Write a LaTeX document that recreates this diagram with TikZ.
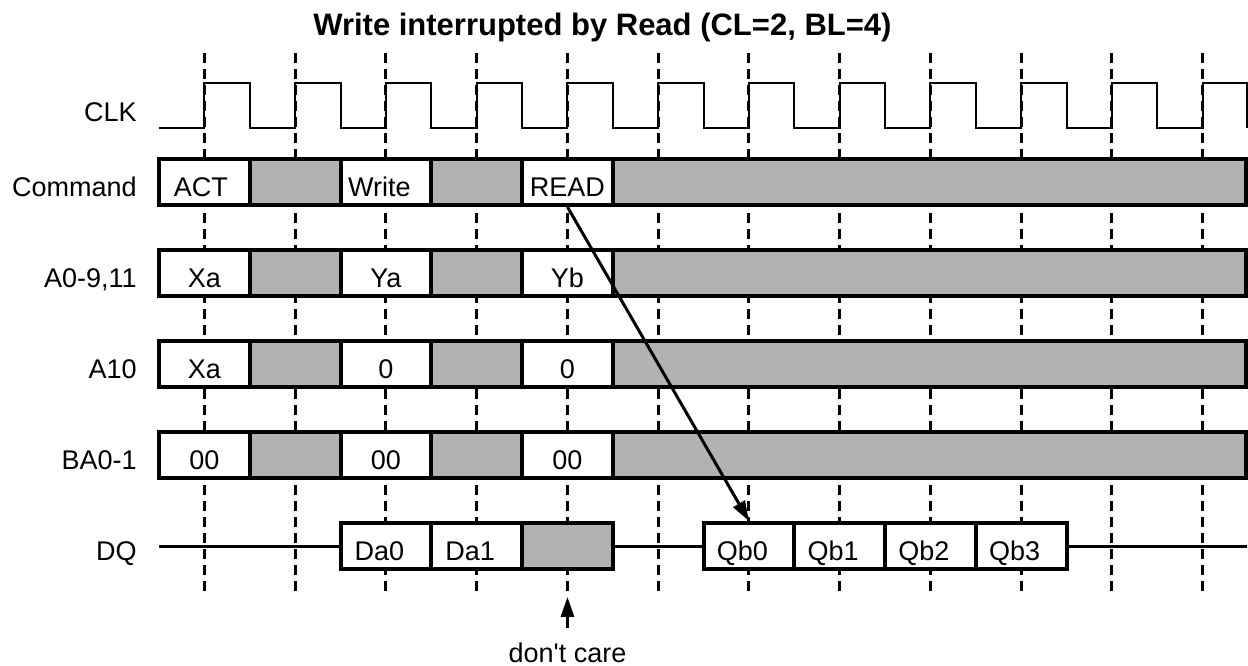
\documentclass[tikz,border=0pt]{standalone}
\usepackage{fontspec}
\setmainfont{Liberation Sans}
\usetikzlibrary{arrows.meta}
\definecolor{dcgray}{RGB}{178,178,178}
\newcommand{\sigfont}{\fontsize{27}{31}\selectfont}
\tikzset{
  cell/.style={draw, line width=4pt, fill=white, minimum width=90.75pt,
    minimum height=46pt, inner sep=0pt, text height=28pt, text depth=0pt, font=\sigfont},
  lcell/.style={cell, execute at end node=\hspace*{13pt}},
  dcell/.style={cell, fill=dcgray},
  sig/.style={anchor=east, inner sep=0pt, text height=28pt, text depth=0pt, font=\sigfont},
  tick/.style={line width=3pt, dash pattern=on 10pt off 6pt},
  tip/.style={line width=3pt, -{Triangle[length=20pt,width=13pt]}}
}
\begin{document}
\begin{tikzpicture}[x=45.375pt, y=-45.5pt]
\useasboundingbox (-3.506,0) rectangle (23.998,14.637);

\node[font=\fontsize{31}{37}\selectfont\bfseries, anchor=base] (title) at (9.77,0.77) {Write interrupted by Read (CL=2, BL=4)};

% clock edges
\draw[tick] (1,1.165) -- (1,13.05);
\draw[tick] (3,1.165) -- (3,13.05);
\draw[tick] (5,1.165) -- (5,13.05);
\draw[tick] (7,1.165) -- (7,13.05);
\draw[tick] (9,1.165) -- (9,13.05);
\draw[tick] (11,1.165) -- (11,13.05);
\draw[tick] (13,1.165) -- (13,13.05);
\draw[tick] (15,1.165) -- (15,13.05);
\draw[tick] (17,1.165) -- (17,13.05);
\draw[tick] (19,1.165) -- (19,13.05);
\draw[tick] (21,1.165) -- (21,13.05);
\draw[tick] (23,1.165) -- (23,13.05);

% CLK
\node[sig] (clk) at (-0.49,2.37) {CLK};
\draw[line width=2pt] (0,2.82) -- (1,2.82) |- (2,1.83) |- (3,2.82) |- (4,1.83) |- (5,2.82)
  |- (6,1.83) |- (7,2.82) |- (8,1.83) |- (9,2.82) |- (10,1.83) |- (11,2.82)
  |- (12,1.83) |- (13,2.82) |- (14,1.83) |- (15,2.82) |- (16,1.83) |- (17,2.82)
  |- (18,1.83) |- (19,2.82) |- (20,1.83) |- (21,2.82) |- (22,1.83) |- (23,2.82)
  |- (23.98,1.83) -- (23.98,2.82);

% Command
\node[sig] (cmd) at (-0.49,4) {Command};
\node[cell, execute at end node=\hspace*{7pt}] (act) at (1,4) {ACT};
\node[dcell] (cmd1) at (3,4) {};
\node[lcell] (write) at (5,4) {Write};
\node[dcell] (cmd3) at (7,4) {};
\node[cell] (read) at (9,4) {READ};
\node[dcell, minimum width=633.4pt] (cmdx) at (16.98,4) {};

% A0-9,11
\node[sig] (addr) at (-0.49,6) {A0-9,11};
\node[cell] (addr0) at (1,6) {Xa};
\node[dcell] (addr1) at (3,6) {};
\node[cell] (addr2) at (5,6) {Ya};
\node[dcell] (addr3) at (7,6) {};
\node[cell] (addr4) at (9,6) {Yb};
\node[dcell, minimum width=633.4pt] (addrx) at (16.98,6) {};

% A10
\node[sig] (aten) at (-0.49,8) {A10};
\node[cell] (aten0) at (1,8) {Xa};
\node[dcell] (aten1) at (3,8) {};
\node[cell] (aten2) at (5,8) {0};
\node[dcell] (aten3) at (7,8) {};
\node[cell] (aten4) at (9,8) {0};
\node[dcell, minimum width=633.4pt] (atenx) at (16.98,8) {};

% BA0-1
\node[sig] (bank) at (-0.49,10) {BA0-1};
\node[cell] (bank0) at (1,10) {00};
\node[dcell] (bank1) at (3,10) {};
\node[cell] (bank2) at (5,10) {00};
\node[dcell] (bank3) at (7,10) {};
\node[cell] (bank4) at (9,10) {00};
\node[dcell, minimum width=633.4pt] (bankx) at (16.98,10) {};

% DQ
\node[sig] (dq) at (-0.49,12) {DQ};
\coordinate (dqin) at (0,12);
\coordinate (dqout) at (23.98,12);
\node[lcell] (da0) at (5,12) {Da0};
\node[lcell] (da1) at (7,12) {Da1};
\node[dcell] (dc) at (9,12) {};
\node[lcell] (qb0) at (13,12) {Qb0};
\node[lcell] (qb1) at (15,12) {Qb1};
\node[lcell] (qb2) at (17,12) {Qb2};
\node[lcell] (qb3) at (19,12) {Qb3};
\draw[line width=3pt] (dqin) -- (da0) (dc) -- (qb0) (qb3) -- (dqout);

\draw[tip] (read.south) -- (qb0.north);

\node[font=\sigfont, anchor=base, inner sep=0pt] (dctxt) at (9,14.556) {don\textquotesingle t care};
\coordinate (dcfoot) at (9,13.8);
\coordinate (dchead) at (9,13.12);
\draw[tip] (dcfoot) -- (dchead);
\end{tikzpicture}
\end{document}
